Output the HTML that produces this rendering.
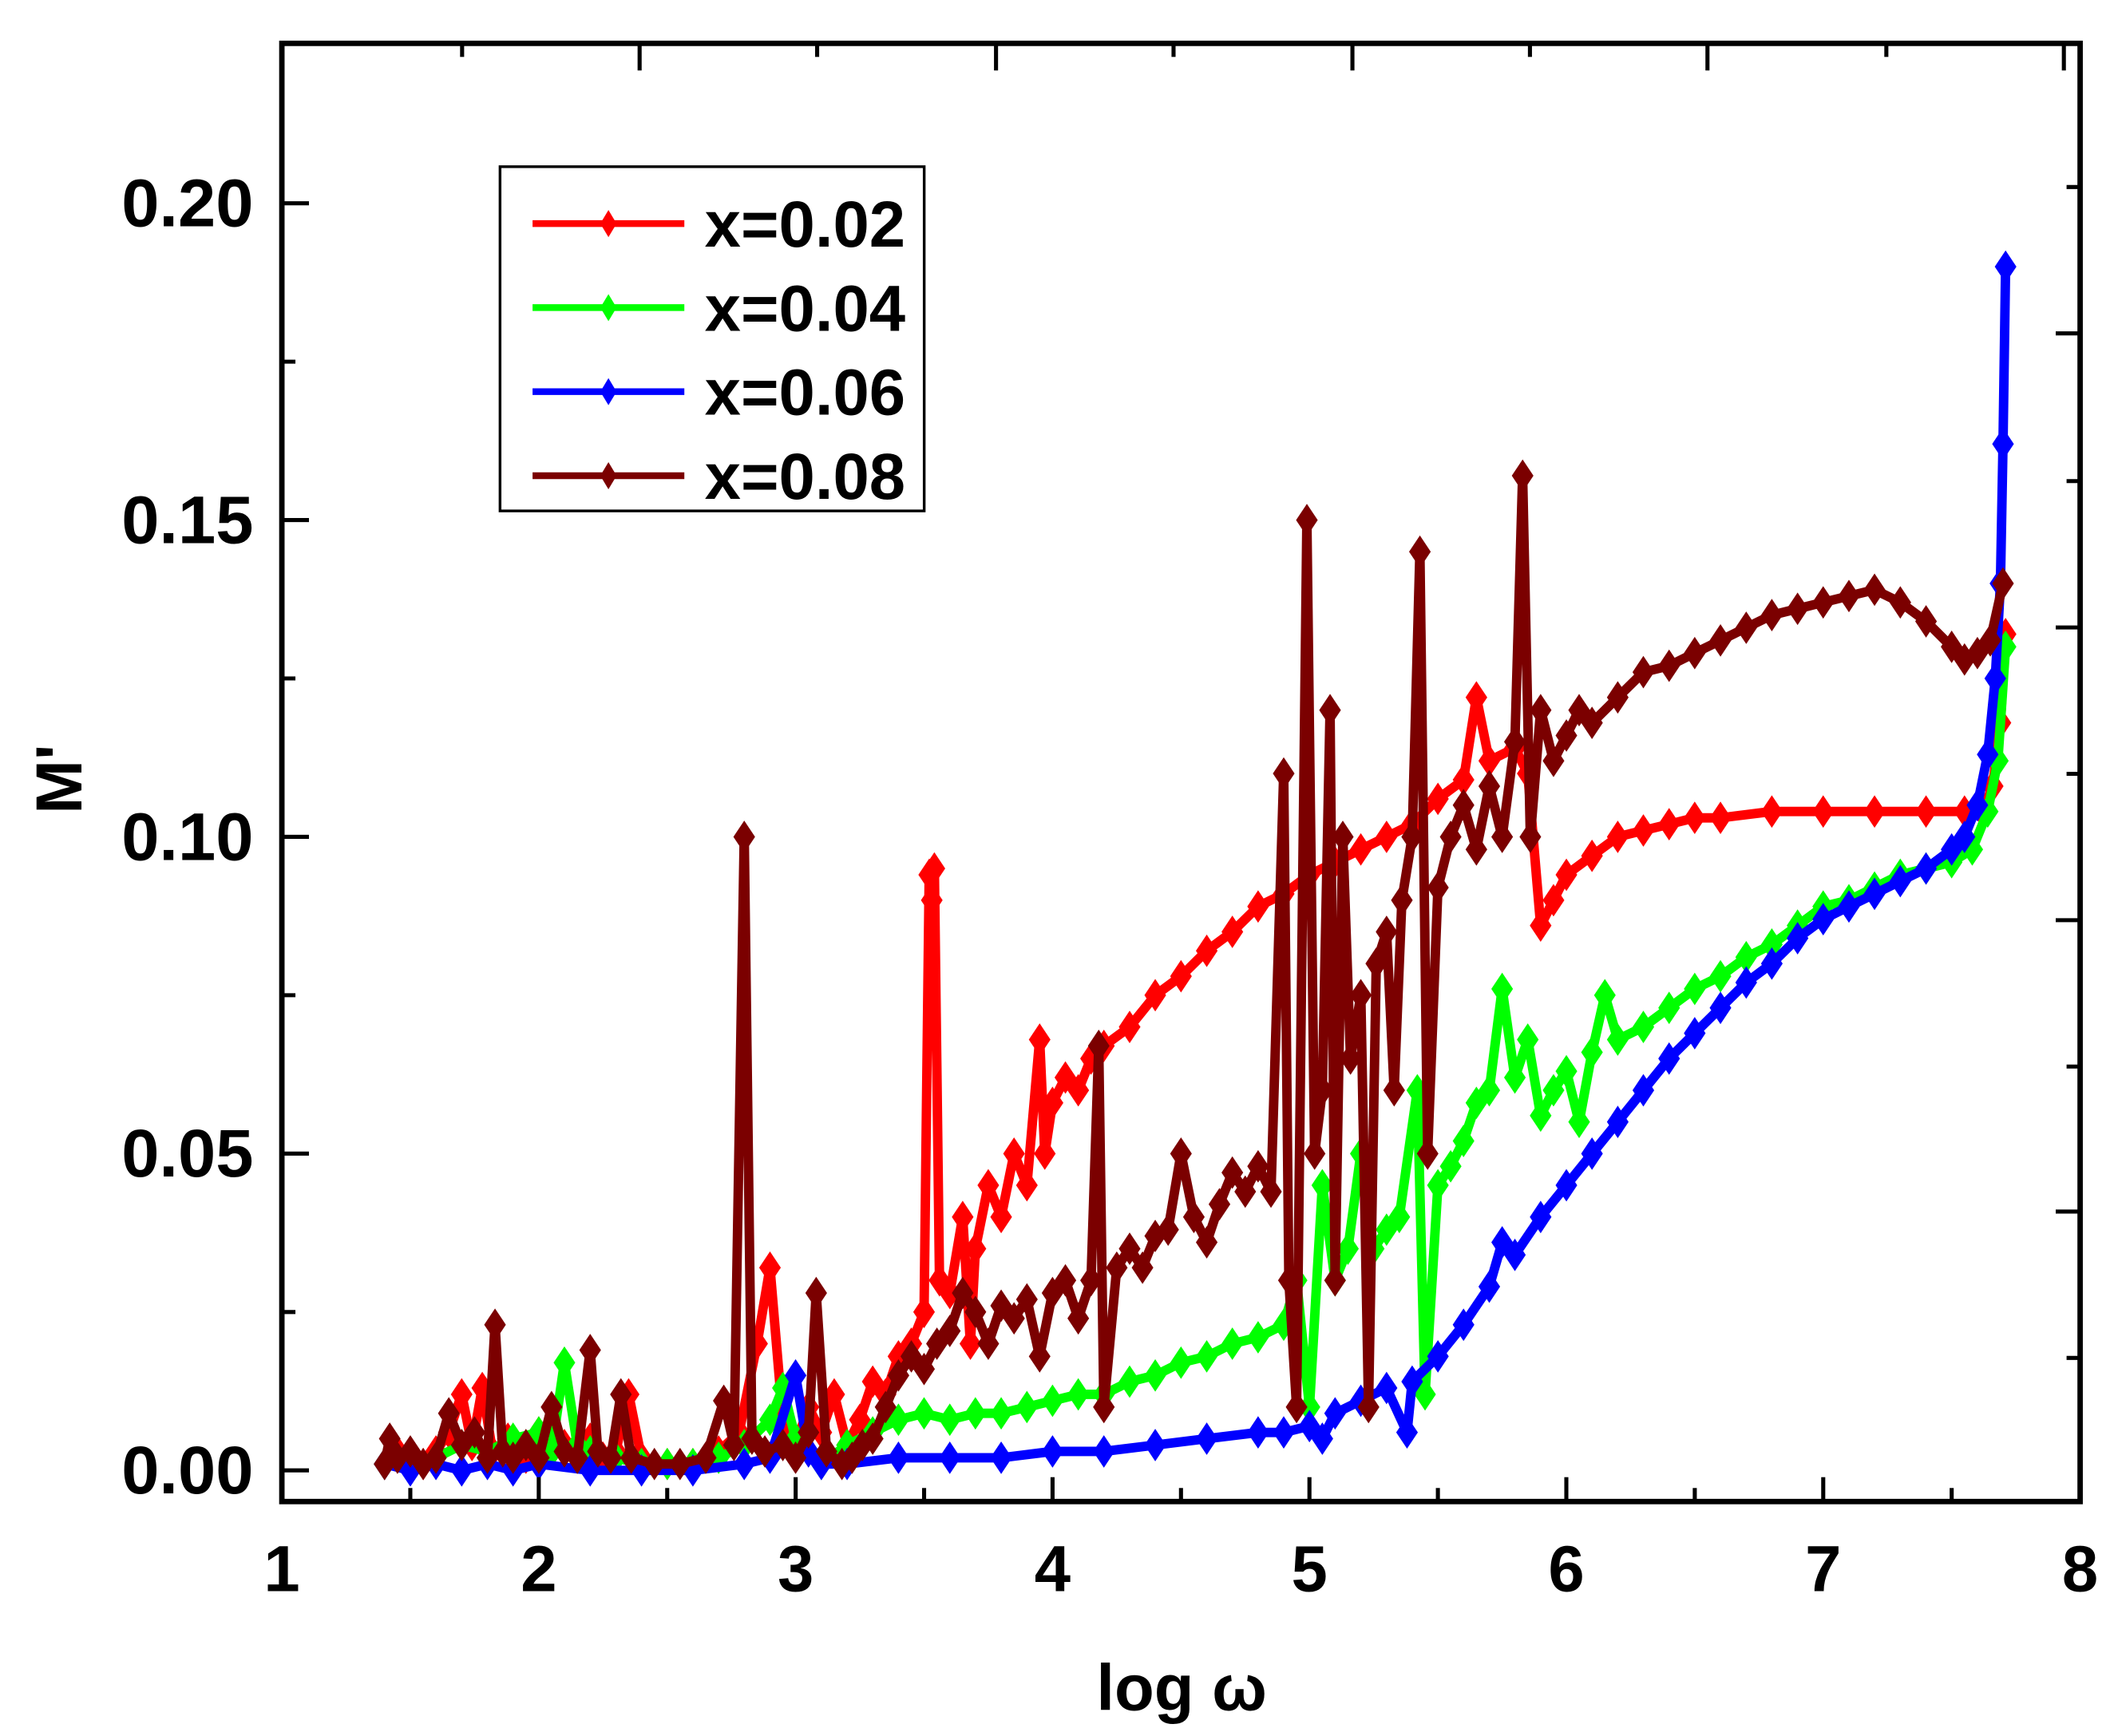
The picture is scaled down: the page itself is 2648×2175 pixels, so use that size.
<!DOCTYPE html>
<html><head><meta charset="utf-8"><style>
html,body{margin:0;padding:0;background:#fff;}
svg{display:block;}
text{font-family:"Liberation Sans",Arial,sans-serif;font-weight:bold;fill:#000;}
</style></head><body>
<svg id="chart" width="2648" height="2175" viewBox="0 0 1560 1281" preserveAspectRatio="none" xmlns="http://www.w3.org/2000/svg">
<g id="plot"></g>
<rect x="208" y="32" width="1327" height="1076" fill="none" stroke="#000" stroke-width="4"/>
<g id="axes"></g>
<text x="872" y="1262" font-size="48" text-anchor="middle">log ω</text>
<text x="60" y="575" font-size="48" text-anchor="middle" transform="rotate(-90 60 575)">M'</text>
<g>
<rect x="369" y="123" width="313" height="254" fill="#fff" stroke="#000" stroke-width="2"/>
<g id="legend-entries"></g>
</g>
</svg>
<script>
const xTickLabels=["1","2","3","4","5","6","7","8"];
const yTickLabels=["0.00","0.05","0.10","0.15","0.20"];
const seriesNames=["x=0.02","x=0.04","x=0.06","x=0.08"];
const seriesColors=["#ff0000","#00ff00","#0000ff","#7b0000"];
const redX=[1.40,1.45,1.50,1.55,1.60,1.65,1.70,1.74,1.78,1.82,1.88,1.95,2.00,2.05,2.10,2.15,2.20,2.25,2.30,2.35,2.40,2.50,2.60,2.70,2.78,2.85,2.90,2.95,3.00,3.05,3.10,3.15,3.20,3.25,3.30,3.35,3.40,3.45,3.50,3.52,3.53,3.54,3.56,3.60,3.65,3.68,3.70,3.75,3.80,3.85,3.90,3.95,3.97,4.00,4.05,4.10,4.15,4.20,4.30,4.40,4.50,4.60,4.70,4.80,4.90,5.00,5.10,5.20,5.30,5.40,5.50,5.60,5.65,5.70,5.80,5.85,5.90,5.95,6.00,6.10,6.20,6.30,6.40,6.50,6.60,6.80,7.00,7.20,7.40,7.55,7.62,7.66,7.69,7.71];
const redY=[.001,.003,.002,.001,.003,.006,.012,.004,.013,.003,.005,.002,.006,.003,.004,.002,.005,.002,.003,.012,.002,.001,.001,.003,.006,.02,.032,.008,.004,.010,.006,.012,.004,.008,.014,.012,.018,.02,.025,.094,.09,.095,.03,.028,.04,.02,.035,.045,.04,.05,.045,.068,.05,.058,.062,.06,.065,.067,.07,.075,.078,.082,.085,.089,.091,.094,.096,.098,.1,.102,.106,.109,.122,.112,.114,.11,.086,.09,.094,.097,.1,.101,.102,.103,.103,.104,.104,.104,.104,.104,.104,.108,.118,.132];
const greenX=[1.40,1.50,1.60,1.70,1.80,1.90,2.00,2.05,2.10,2.15,2.20,2.30,2.40,2.50,2.60,2.70,2.80,2.90,2.95,3.00,3.10,3.20,3.30,3.40,3.50,3.60,3.70,3.80,3.90,4.00,4.10,4.20,4.30,4.40,4.50,4.60,4.70,4.80,4.90,4.95,5.00,5.05,5.10,5.15,5.20,5.25,5.30,5.35,5.42,5.45,5.50,5.55,5.60,5.65,5.70,5.75,5.80,5.85,5.90,5.95,6.00,6.05,6.10,6.15,6.20,6.30,6.40,6.50,6.60,6.70,6.80,6.90,7.00,7.10,7.20,7.30,7.40,7.50,7.58,7.64,7.68,7.71];
const greenY=[.001,.001,.002,.004,.003,.005,.006,.003,.017,.004,.003,.002,.001,.001,.001,.002,.004,.008,.013,.005,.001,.004,.006,.008,.009,.008,.009,.009,.01,.011,.012,.012,.014,.015,.017,.018,.02,.021,.023,.03,.01,.045,.03,.035,.05,.035,.038,.04,.06,.012,.045,.048,.052,.058,.06,.076,.062,.068,.056,.06,.063,.055,.066,.075,.068,.07,.073,.076,.078,.081,.083,.086,.089,.09,.092,.094,.095,.096,.098,.104,.112,.13];
const blueX=[1.40,1.50,1.60,1.70,1.80,1.90,2.00,2.20,2.40,2.60,2.80,2.90,3.00,3.05,3.10,3.20,3.40,3.60,3.80,4.00,4.20,4.40,4.60,4.80,4.90,5.00,5.05,5.10,5.20,5.30,5.38,5.40,5.50,5.60,5.70,5.75,5.80,5.90,6.00,6.10,6.20,6.30,6.40,6.50,6.60,6.70,6.80,6.90,7.00,7.10,7.20,7.30,7.40,7.50,7.55,7.60,7.64,7.67,7.69,7.70,7.71];
const blueY=[.001,0,.001,0,.001,0,.001,0,0,0,.001,.002,.015,.003,.001,.001,.002,.002,.002,.003,.003,.004,.005,.006,.006,.007,.005,.009,.011,.013,.006,.014,.018,.023,.029,.036,.034,.04,.045,.05,.055,.06,.065,.069,.073,.077,.08,.084,.087,.089,.091,.093,.095,.098,.1,.105,.113,.125,.14,.162,.19];
const brownX=[1.40,1.42,1.45,1.50,1.55,1.60,1.65,1.70,1.75,1.80,1.83,1.86,1.90,1.95,2.00,2.05,2.10,2.15,2.20,2.23,2.28,2.32,2.36,2.45,2.55,2.65,2.72,2.76,2.80,2.83,2.88,2.95,3.00,3.05,3.08,3.12,3.18,3.22,3.26,3.30,3.35,3.40,3.45,3.50,3.55,3.60,3.65,3.70,3.75,3.80,3.85,3.90,3.95,4.00,4.05,4.10,4.15,4.18,4.20,4.25,4.30,4.35,4.40,4.45,4.50,4.55,4.60,4.65,4.70,4.75,4.80,4.85,4.90,4.92,4.95,4.99,5.02,5.05,5.08,5.10,5.13,5.16,5.20,5.23,5.26,5.30,5.33,5.36,5.40,5.43,5.46,5.50,5.55,5.60,5.65,5.70,5.75,5.80,5.83,5.86,5.90,5.95,6.00,6.05,6.10,6.20,6.30,6.40,6.50,6.60,6.70,6.80,6.90,7.00,7.10,7.20,7.30,7.40,7.50,7.55,7.60,7.65,7.70];
const brownY=[.001,.005,.002,.003,.001,.002,.009,.004,.006,.002,.023,.003,.002,.004,.002,.01,.003,.002,.019,.003,.002,.012,.002,.001,.001,.002,.011,.004,.1,.005,.003,.004,.002,.006,.028,.003,.001,.002,.004,.005,.01,.015,.018,.016,.02,.022,.028,.025,.02,.026,.024,.027,.018,.028,.03,.024,.03,.067,.01,.032,.035,.032,.037,.038,.05,.04,.036,.042,.047,.044,.048,.044,.11,.03,.01,.15,.05,.06,.12,.03,.1,.065,.075,.01,.08,.085,.06,.09,.1,.145,.05,.092,.1,.105,.098,.108,.1,.115,.157,.1,.12,.112,.116,.12,.118,.122,.126,.127,.129,.131,.133,.135,.136,.137,.138,.139,.137,.134,.13,.128,.129,.131,.14];

const NS="http://www.w3.org/2000/svg";
const X0=208,X1=1535,Y0=1085,YPER=4675;
function sx(v){return X0+(v-1)*(X1-X0)/7;}
function sy(v){return Y0-v*YPER;}
function mk(tag,attrs,parent){const e=document.createElementNS(NS,tag);for(const k in attrs)e.setAttribute(k,attrs[k]);parent.appendChild(e);return e;}
const axes=document.getElementById('axes');
for(let i=0;i<=14;i++){const v=1+i*0.5;const len=i%2===0?18:10;
 const t=mk('line',{x1:sx(v),x2:sx(v),y1:1108,y2:1108-len,stroke:'#000','stroke-width':3},axes);
 
 }
xTickLabels.forEach((l,i)=>{const t=mk('text',{x:sx(1+i),y:1174,'font-size':48,'text-anchor':'middle'},axes);t.textContent=l;
 
 });
for(let i=0;i<=8;i++){const v=i*0.025;const len=i%2===0?20:10;
 const t=mk('line',{x1:208,x2:208+len,y1:sy(v),y2:sy(v),stroke:'#000','stroke-width':3},axes);
 
 }
yTickLabels.forEach((l,i)=>{const t=mk('text',{x:187,y:sy(i*0.05)+17,'font-size':50,'text-anchor':'end'},axes);t.textContent=l;
 
 });
[341,472,603,735,866,998,1129,1260,1392,1523].forEach((x,i)=>{const len=i%2===1?20:10;
 const t=mk('line',{x1:x,x2:x,y1:32,y2:32+len,stroke:'#000','stroke-width':3},axes);
 
 });
[138,246,355,463,571,679,787,894,1002].forEach((y,i)=>{const len=i%2===1?18:10;
 const t=mk('line',{x1:1535,x2:1535-len,y1:y,y2:y,stroke:'#000','stroke-width':3},axes);
 
 });
const plot=document.getElementById('plot');
const allX=[redX,greenX,blueX,brownX],allY=[redY,greenY,blueY,brownY];
function diamond(cx,cy,w,h){return `M${cx},${cy-h} L${cx+w},${cy} L${cx},${cy+h} L${cx-w},${cy} Z`;}
const sname=['series-x002','series-x004','series-x006','series-x008'];
for(let s=0;s<4;s++){
 const g=mk('g',{},plot);
 
 
 const xs=allX[s],ys=allY[s];
 let d='';xs.forEach((x,i)=>{d+=(i?'L':'M')+sx(x).toFixed(1)+','+sy(ys[i]).toFixed(1);});
 const ln=mk('path',{d:d,fill:'none',stroke:seriesColors[s],'stroke-width':7,'stroke-linejoin':'round'},g);
 
 
 let md='';xs.forEach((x,i)=>{md+=diamond(+sx(x).toFixed(1),+sy(ys[i]).toFixed(1),8,12);});
 const mm=mk('path',{d:md,fill:seriesColors[s]},g);
 
 
}
const lg=document.getElementById('legend-entries');
seriesNames.forEach((n,i)=>{const y=165+i*62;
 const g=mk('g',{},lg);
 
 
 mk('line',{x1:393,x2:505,y1:y,y2:y,stroke:seriesColors[i],'stroke-width':5},g);
 mk('path',{d:diamond(449,y,6,10),fill:seriesColors[i]},g);
 const t=mk('text',{x:520,y:y+17,'font-size':48},g);t.textContent=n;});
</script>
</body></html>
